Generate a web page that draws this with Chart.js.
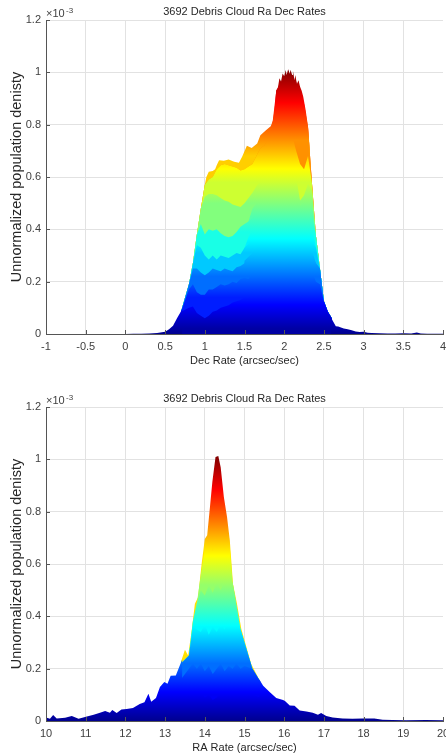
<!DOCTYPE html>
<html>
<head>
<meta charset="utf-8">
<title>3692 Debris Cloud Ra Dec Rates</title>
<script src="https://cdn.jsdelivr.net/npm/chart.js@4"></script>
<style>
  html, body { margin: 0; padding: 0; background: #fff; overflow: hidden; width: 446px; height: 755px; }
  canvas { position: absolute; left: 0; filter: blur(0.35px); }
  #chartDec { top: 0; }
  #chartRa { top: 387px; }
</style>
</head>
<body>
<canvas id="chartDec" width="460" height="368"></canvas>
<canvas id="chartRa" width="460" height="368"></canvas>
<script>
// all densities are in units of 1e-3, same as the axis labels
const yTicks = [0, 0.2, 0.4, 0.6, 0.8, 1, 1.2];
const decTicks = [-1, -0.5, 0, 0.5, 1, 1.5, 2, 2.5, 3, 3.5, 4];
const raTicks = [10, 11, 12, 13, 14, 15, 16, 17, 18, 19, 20];

// Dec chart: outer envelope
const decEnvX = [0.7, 0.8, 0.85, 0.9, 0.95, 1, 1.02, 1.05, 1.1, 1.13, 1.15, 1.18, 1.24, 1.3, 1.37, 1.43, 1.47, 1.53, 1.59, 1.66, 1.7, 1.77, 1.83, 1.86, 1.88, 1.9, 1.92, 1.94, 1.96, 1.98, 2, 2.02, 2.03, 2.05, 2.07, 2.08, 2.1, 2.11, 2.13, 2.14, 2.16, 2.18, 2.2, 2.22, 2.24, 2.27, 2.3, 2.32, 2.33, 2.35, 2.37, 2.39, 2.43, 2.47, 2.51, 2.55, 2.6];
const decEnv = [0.085, 0.19, 0.27, 0.38, 0.48, 0.57, 0.6, 0.62, 0.623, 0.63, 0.645, 0.664, 0.662, 0.667, 0.658, 0.654, 0.677, 0.719, 0.711, 0.728, 0.76, 0.779, 0.794, 0.817, 0.86, 0.932, 0.94, 0.977, 0.965, 0.996, 0.985, 1.009, 0.99, 1.012, 0.995, 1.01, 0.99, 1.006, 0.97, 0.99, 0.955, 0.97, 0.945, 0.93, 0.907, 0.856, 0.792, 0.715, 0.651, 0.575, 0.485, 0.396, 0.306, 0.19, 0.115, 0.085, 0.06];

// Dec chart: ridges from front to back, all on decLayerX
const decLayerX = [0.7, 0.8, 0.85, 0.9, 0.95, 1, 1.05, 1.1, 1.15, 1.2, 1.25, 1.3, 1.35, 1.4, 1.45, 1.5, 1.55, 1.6, 1.65, 1.7, 1.75, 1.8, 1.85, 1.9, 1.95, 2, 2.05, 2.1, 2.15, 2.2, 2.25, 2.3, 2.35, 2.4, 2.45, 2.5, 2.55, 2.6];
const decLayerA = [0.085, 0.1, 0.105, 0.08, 0.07, 0.06, 0.07, 0.085, 0.09, 0.1, 0.105, 0.11, 0.12, 0.125, 0.13, 0.14, 0.145, 0.15, 0.155, 0.16, 0.165, 0.17, 0.175, 0.18, 0.19, 0.19, 0.195, 0.19, 0.2, 0.195, 0.19, 0.18, 0.17, 0.15, 0.14, 0.125, 0.085, 0.06];
const decLayerB = [0.085, 0.17, 0.19, 0.16, 0.15, 0.15, 0.17, 0.17, 0.18, 0.19, 0.185, 0.19, 0.2, 0.195, 0.21, 0.215, 0.21, 0.23, 0.235, 0.25, 0.24, 0.26, 0.265, 0.27, 0.285, 0.28, 0.29, 0.275, 0.285, 0.27, 0.26, 0.255, 0.24, 0.2, 0.19, 0.125, 0.085, 0.06];
const decLayerC = [0.085, 0.19, 0.25, 0.25, 0.235, 0.225, 0.235, 0.25, 0.245, 0.24, 0.25, 0.245, 0.24, 0.255, 0.26, 0.27, 0.285, 0.28, 0.3, 0.315, 0.31, 0.33, 0.34, 0.335, 0.355, 0.35, 0.36, 0.345, 0.35, 0.33, 0.335, 0.315, 0.3, 0.27, 0.25, 0.125, 0.085, 0.06];
const decLayerJ = [0, 0, 0, 0, 0, 0, 0, 0, 0, 0, 0, 0, 0, 0, 0, 0.28, 0.295, 0.31, 0.335, 0.36, 0.355, 0.37, 0.375, 0.39, 0.38, 0.4, 0.38, 0.37, 0.385, 0.35, 0.36, 0.34, 0.32, 0.27, 0.25, 0.125, 0.085, 0.06];
const decLayerD = [0.085, 0.19, 0.27, 0.34, 0.33, 0.3, 0.285, 0.3, 0.285, 0.3, 0.295, 0.29, 0.3, 0.31, 0.305, 0.33, 0.345, 0.36, 0.355, 0.38, 0.375, 0.4, 0.385, 0.41, 0.43, 0.415, 0.43, 0.4, 0.41, 0.38, 0.39, 0.36, 0.355, 0.33, 0.25, 0.125, 0.085, 0.06];
const decLayerK = [0, 0, 0, 0, 0, 0, 0, 0, 0, 0, 0, 0, 0, 0, 0, 0.33, 0.37, 0.4, 0.41, 0.43, 0.45, 0.44, 0.47, 0.46, 0.49, 0.47, 0.49, 0.45, 0.44, 0.43, 0.44, 0.42, 0.41, 0.33, 0.25, 0.125, 0.085, 0.06];
const decLayerE = [0.085, 0.19, 0.27, 0.38, 0.42, 0.38, 0.4, 0.395, 0.4, 0.385, 0.375, 0.37, 0.375, 0.39, 0.41, 0.42, 0.43, 0.445, 0.455, 0.475, 0.48, 0.495, 0.51, 0.52, 0.55, 0.53, 0.54, 0.5, 0.51, 0.47, 0.49, 0.47, 0.46, 0.375, 0.25, 0.125, 0.085, 0.06];
const decLayerL = [0, 0, 0, 0, 0, 0, 0, 0, 0, 0, 0, 0, 0, 0, 0, 0.4, 0.43, 0.48, 0.5, 0.53, 0.54, 0.56, 0.57, 0.59, 0.61, 0.6, 0.58, 0.56, 0.55, 0.49, 0.51, 0.52, 0.5, 0.375, 0.25, 0.125, 0.085, 0.06];
const decLayerF = [0.085, 0.19, 0.27, 0.38, 0.48, 0.525, 0.535, 0.535, 0.53, 0.52, 0.51, 0.505, 0.495, 0.49, 0.485, 0.5, 0.52, 0.54, 0.565, 0.585, 0.6, 0.615, 0.635, 0.645, 0.67, 0.66, 0.665, 0.62, 0.6, 0.51, 0.53, 0.575, 0.55, 0.375, 0.25, 0.125, 0.085, 0.06];
const decLayerG = [0.085, 0.19, 0.27, 0.38, 0.48, 0.57, 0.59, 0.6, 0.63, 0.645, 0.65, 0.645, 0.64, 0.635, 0.625, 0.63, 0.64, 0.65, 0.68, 0.71, 0.72, 0.745, 0.77, 0.79, 0.76, 0.78, 0.75, 0.76, 0.7, 0.65, 0.63, 0.68, 0.575, 0.375, 0.25, 0.125, 0.085, 0.06];
const decLayerH = [0.085, 0.19, 0.27, 0.38, 0.48, 0.57, 0.59, 0.6, 0.63, 0.645, 0.65, 0.645, 0.64, 0.635, 0.625, 0.63, 0.64, 0.65, 0.68, 0.71, 0.72, 0.745, 0.8, 0.87, 0.9, 0.86, 0.91, 0.88, 0.89, 0.8, 0.83, 0.79, 0.575, 0.375, 0.25, 0.125, 0.085, 0.06];
const decLayerI = [0, 0, 0, 0, 0, 0, 0, 0, 0, 0, 0, 0, 0, 0, 0, 0, 0, 0, 0, 0, 0, 0, 0.8, 0.93, 0.96, 0.94, 0.975, 0.96, 0.965, 0.91, 0.88, 0.79, 0.575, 0.375, 0.25, 0.125, 0.085, 0.06];

// Dec chart: thin tails on both sides, zero across the body
const decTailX = [-1, 0, 0.1, 0.2, 0.3, 0.4, 0.5, 0.55, 0.6, 0.65, 0.715, 0.715, 2.585, 2.585, 2.65, 2.68, 2.75, 2.8, 2.85, 2.9, 2.95, 3, 3.05, 3.1, 3.2, 3.3, 3.4, 3.5, 3.6, 3.67, 3.72, 3.8, 4];
const decTail = [0, 0, 0.0005, 0.001, 0.002, 0.004, 0.009, 0.018, 0.032, 0.06, 0.095, 0, 0, 0.065, 0.03, 0.029, 0.021, 0.018, 0.014, 0.01, 0.008, 0.009, 0.005, 0.004, 0.003, 0.002, 0.002, 0.003, 0.002, 0.006, 0.002, 0.001, 0.001];

// RA chart: outer envelope of the peak
const raEnvX = [13.4, 13.5, 13.58, 13.67, 13.75, 13.83, 13.92, 14, 14.06, 14.13, 14.19, 14.27, 14.34, 14.4, 14.48, 14.56, 14.63, 14.71, 14.81, 14.92, 15.05, 15.17, 15.3, 15.4];
const raEnv = [0.226, 0.272, 0.25, 0.346, 0.448, 0.473, 0.6, 0.696, 0.71, 0.818, 0.913, 1.009, 1.013, 0.97, 0.856, 0.78, 0.69, 0.524, 0.448, 0.352, 0.282, 0.218, 0.18, 0.15];

// RA chart: ridges from front to back, all on raLayerX
const raLayerX = [13.4, 13.6, 13.7, 13.8, 13.9, 14, 14.1, 14.2, 14.3, 14.4, 14.5, 14.6, 14.7, 14.8, 14.9, 15, 15.2, 15.4];
const raLayer0 = [0.1, 0.11, 0.12, 0.1, 0.11, 0.09, 0.1, 0.08, 0.09, 0.11, 0.1, 0.12, 0.1, 0.11, 0.1, 0.11, 0.1, 0.09];
const raLayer1 = [0.16, 0.2, 0.22, 0.2, 0.22, 0.19, 0.21, 0.18, 0.2, 0.22, 0.19, 0.21, 0.2, 0.22, 0.2, 0.21, 0.2, 0.15];
const raLayer2 = [0.22, 0.25, 0.36, 0.35, 0.34, 0.37, 0.33, 0.36, 0.34, 0.37, 0.35, 0.38, 0.36, 0.37, 0.35, 0.3, 0.2, 0.15];
const raLayer3 = [0.22, 0.25, 0.38, 0.45, 0.5, 0.48, 0.52, 0.49, 0.53, 0.5, 0.54, 0.52, 0.53, 0.44, 0.35, 0.3, 0.2, 0.15];
const raLayer4 = [0.22, 0.25, 0.38, 0.45, 0.56, 0.66, 0.69, 0.65, 0.72, 0.68, 0.7, 0.72, 0.53, 0.44, 0.35, 0.3, 0.2, 0.15];

// RA chart: wings on both sides
const raTailX = [10, 10.1, 10.18, 10.27, 10.48, 10.65, 10.82, 11.03, 11.2, 11.36, 11.49, 11.61, 11.67, 11.78, 11.9, 12.03, 12.19, 12.36, 12.48, 12.58, 12.65, 12.77, 12.87, 12.98, 13.06, 13.14, 13.27, 13.43, 13.43, 15.37, 15.37, 15.47, 15.64, 15.8, 15.97, 16.02, 16.14, 16.26, 16.39, 16.56, 16.72, 16.85, 16.93, 17.06, 17.22, 17.47, 17.72, 17.97, 18.27, 18.48, 18.73, 19.07, 19.57, 20];
const raTail = [0.013, 0.009, 0.023, 0.01, 0.012, 0.019, 0.009, 0.017, 0.024, 0.032, 0.038, 0.032, 0.042, 0.031, 0.044, 0.046, 0.05, 0.065, 0.072, 0.104, 0.074, 0.088, 0.13, 0.149, 0.142, 0.173, 0.174, 0.235, 0, 0, 0.16, 0.135, 0.11, 0.088, 0.08, 0.076, 0.059, 0.058, 0.04, 0.036, 0.032, 0.024, 0.031, 0.019, 0.013, 0.01, 0.009, 0.01, 0.01, 0.005, 0.004, 0.003, 0.004, 0.003];

// jet colormap stops, position is density / peak
const JET = [
  [0, [0, 0, 143]],
  [0.11, [0, 0, 255]],
  [0.36, [0, 255, 255]],
  [0.625, [255, 255, 0]],
  [0.875, [255, 0, 0]],
  [1, [128, 0, 0]],
];
const PEAK = 1.01;

function jetAt(v) {
  if (v <= 0) return "rgb(0,0,143)";
  for (let i = 1; i < JET.length; i++) {
    if (v <= JET[i][0]) {
      const [p0, c0] = JET[i - 1];
      const [p1, c1] = JET[i];
      const t = (v - p0) / (p1 - p0);
      const c = c0.map((n, k) => Math.round(n + (c1[k] - n) * t));
      return `rgb(${c[0]},${c[1]},${c[2]})`;
    }
  }
  return "rgb(128,0,0)";
}

// Jet by height, but flat below floor so a rear ridge shows a step over the one in front
function layerFill(floor) {
  return function (context) {
    const { ctx, scales } = context.chart;
    const y0 = scales.y ? scales.y.getPixelForValue(0) : NaN;
    const y1 = scales.y ? scales.y.getPixelForValue(PEAK) : NaN;
    if (!Number.isFinite(y0) || !Number.isFinite(y1)) return jetAt(floor / PEAK);
    const grad = ctx.createLinearGradient(0, y0, 0, y1);
    const start = floor / PEAK;
    grad.addColorStop(0, jetAt(start));
    grad.addColorStop(start, jetAt(start));
    JET.forEach(([pos, c]) => {
      if (pos > start) grad.addColorStop(pos, `rgb(${c[0]},${c[1]},${c[2]})`);
    });
    return grad;
  };
}

function layer(xs, ys, floor) {
  return {
    data: xs.map((x, i) => ({ x, y: ys[i] })),
    backgroundColor: layerFill(floor),
    borderWidth: 0,
    pointRadius: 0,
    tension: 0,
    fill: "origin",
  };
}

// Short inward ticks and the x10^-3 multiplier
const axisExtras = {
  id: "axisExtras",
  afterDraw(chart) {
    const { ctx, scales } = chart;
    ctx.save();
    ctx.strokeStyle = "#555";
    ctx.lineWidth = 1;
    ctx.beginPath();
    scales.y.ticks.forEach((t) => {
      const py = Math.round(scales.y.getPixelForValue(t.value)) + 0.5;
      ctx.moveTo(scales.y.right, py);
      ctx.lineTo(scales.y.right + 4, py);
    });
    scales.x.ticks.forEach((t) => {
      const px = Math.round(scales.x.getPixelForValue(t.value)) + 0.5;
      ctx.moveTo(px, scales.y.bottom);
      ctx.lineTo(px, scales.y.bottom - 4);
    });
    ctx.stroke();
    ctx.fillStyle = "#404040";
    ctx.textBaseline = "alphabetic";
    ctx.font = "11px 'Liberation Sans'";
    ctx.fillText("×10", 46, 17);
    ctx.font = "8px 'Liberation Sans'";
    ctx.fillText("-3", 66, 13);
    ctx.restore();
  },
};

function makeChart(id, datasets, xMin, xMax, xTicks, xTitle) {
  return new Chart(document.getElementById(id), {
    type: "line",
    data: { datasets },
    plugins: [axisExtras],
    options: {
      responsive: false,
      animation: false,
      layout: { padding: { left: 0, right: 17, top: 0, bottom: 0 } },
      plugins: {
        legend: { display: false },
        tooltip: { enabled: false },
        title: {
          display: true,
          text: "3692 Debris Cloud Ra Dec Rates",
          fullSize: false,
          color: "#262626",
          font: { family: "'Liberation Sans'", size: 11, weight: "normal" },
          padding: { top: 5, bottom: 1.8 },
        },
      },
      scales: {
        x: {
          type: "linear",
          min: xMin,
          max: xMax,
          afterBuildTicks: (s) => { s.ticks = xTicks.map((v) => ({ value: v })); },
          afterFit: (s) => { s.height = 34; },
          grid: {
            color: (c) => (c.index === xTicks.length - 1 ? "transparent" : "#e2e2e2"),
            drawTicks: false,
          },
          border: { color: "#555" },
          ticks: {
            autoSkip: false,
            maxRotation: 0,
            padding: 6,
            color: "#404040",
            font: { family: "'Liberation Sans'", size: 11 },
            callback: (v) => String(v),
          },
          title: {
            display: true,
            text: xTitle,
            color: "#262626",
            font: { family: "'Liberation Sans'", size: 11 },
            padding: { top: -2, bottom: 0 },
          },
        },
        y: {
          min: 0,
          max: 1.2,
          afterBuildTicks: (s) => { s.ticks = yTicks.map((v) => ({ value: v })); },
          afterFit: (s) => { s.width = 46; },
          grid: { color: "#e2e2e2", drawTicks: false },
          border: { color: "#555" },
          ticks: {
            padding: 5,
            color: "#404040",
            font: { family: "'Liberation Sans'", size: 11 },
            callback: (v) => String(v),
          },
          title: {
            display: true,
            text: "Unnormalized population denisty",
            color: "#262626",
            font: { family: "'Liberation Sans'", size: 14.5 },
            padding: { top: 8, bottom: 0 },
          },
        },
      },
    },
  });
}

// datasets listed front first, Chart.js paints index 0 last
makeChart("chartDec", [
  layer(decTailX, decTail, 0),
  layer(decLayerX, decLayerA, 0.02),
  layer(decLayerX, decLayerB, 0.14),
  layer(decLayerX, decLayerC, 0.22),
  layer(decLayerX, decLayerJ, 0.27),
  layer(decLayerX, decLayerD, 0.31),
  layer(decLayerX, decLayerK, 0.35),
  layer(decLayerX, decLayerE, 0.39),
  layer(decLayerX, decLayerL, 0.45),
  layer(decLayerX, decLayerF, 0.5),
  layer(decLayerX, decLayerG, 0.58),
  layer(decLayerX, decLayerH, 0.74),
  layer(decEnvX, decEnv, 0.68),
  layer(decLayerX, decLayerI, 0.84),
], -1, 4, decTicks, "Dec Rate (arcsec/sec)");

makeChart("chartRa", [
  layer(raTailX, raTail, 0),
  layer(raLayerX, raLayer0, 0),
  layer(raLayerX, raLayer1, 0.1),
  layer(raLayerX, raLayer2, 0.22),
  layer(raLayerX, raLayer3, 0.36),
  layer(raLayerX, raLayer4, 0.52),
  layer(raEnvX, raEnv, 0.66),
], 10, 20, raTicks, "RA Rate (arcsec/sec)");
</script>
</body>
</html>
